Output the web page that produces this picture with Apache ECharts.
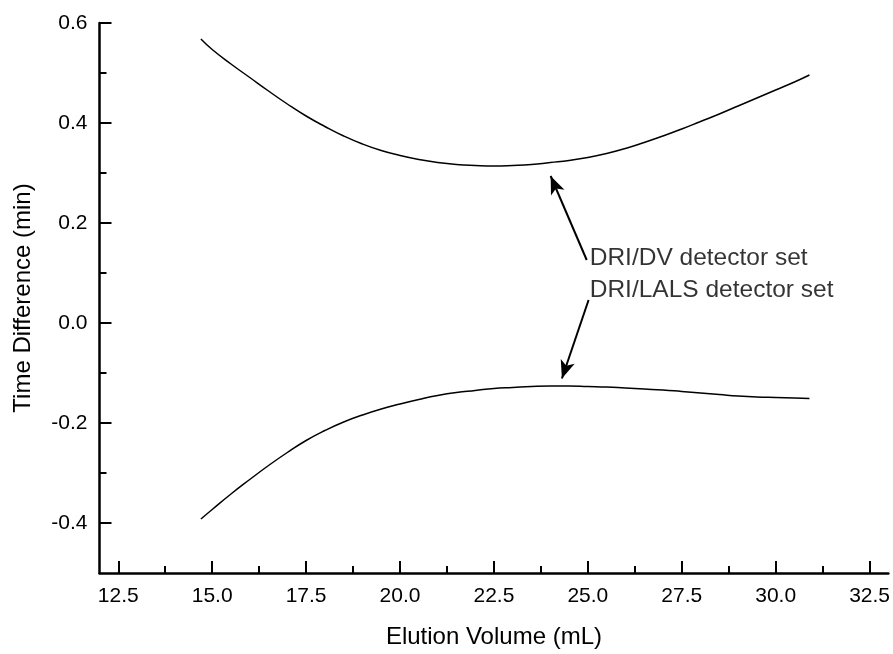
<!DOCTYPE html>
<html>
<head>
<meta charset="utf-8">
<script src="https://cdn.jsdelivr.net/npm/echarts@6/dist/echarts.min.js"></script>
<style>html,body{margin:0;padding:0;background:#fff}#c{width:893px;height:654px}</style>
</head>
<body>
<div id="c"></div>
<script>
// Elution volume (mL) sample points
const elutionVolume = [14.7,15.0,15.5,16.0,16.5,17.0,17.5,18.0,18.5,19.0,19.5,20.0,20.5,21.0,21.5,22.0,22.5,23.0,23.5,24.0,24.5,25.0,25.5,26.0,26.5,27.0,27.5,28.0,28.5,29.0,29.5,30.0,30.5,30.9];
// DRI/DV detector set time difference (min)
const driDv = [0.568,0.547,0.518,0.491,0.464,0.438,0.414,0.393,0.374,0.358,0.345,0.335,0.327,0.321,0.317,0.315,0.314,0.315,0.317,0.321,0.325,0.331,0.339,0.349,0.361,0.374,0.388,0.403,0.418,0.434,0.450,0.466,0.482,0.496];
// DRI/LALS detector set time difference (min)
const driLals = [-0.392,-0.373,-0.342,-0.313,-0.285,-0.259,-0.235,-0.215,-0.198,-0.184,-0.172,-0.162,-0.153,-0.145,-0.139,-0.135,-0.131,-0.129,-0.127,-0.126,-0.126,-0.127,-0.128,-0.130,-0.132,-0.134,-0.137,-0.140,-0.143,-0.146,-0.148,-0.149,-0.150,-0.151];
// tick labels
const xTicks = [12.5,15.0,17.5,20.0,22.5,25.0,27.5,30.0,32.5];
const xMinorTicks = [13.75,16.25,18.75,21.25,23.75,26.25,28.75,31.25];
const yTicks = [-0.4,-0.2,0.0,0.2,0.4,0.6];
const yMinorTicks = [-0.3,-0.1,0.1,0.3,0.5];
// annotations: label text and arrows (data coordinates)
const labelTexts = ['DRI/DV detector set','DRI/LALS detector set'];
const labelAnchors = [[25.05,0.130],[25.05,0.066]];
const arrowTails = [[24.97,0.126],[25.02,0.046]];
const arrowTips = [[24.01,0.294],[24.31,-0.111]];

const FONT = "'Liberation Sans', Arial, Helvetica, sans-serif";
const chart = echarts.init(document.getElementById('c'), null, {renderer:'canvas'});

function pairs(xs, ys){ return xs.map((x,i)=>[x, ys[i]]); }

const option = {
  backgroundColor:'#fff',
  animation:false,
  grid:{left:99.5, right:2.5, top:23, bottom:75, containLabel:false},
  xAxis:[
    {
      type:'value', min:12, max:33, position:'bottom',
      axisLine:{show:true, onZero:false, lineStyle:{color:'#000', width:2.5}},
      splitLine:{show:false},
      axisTick:{show:true, inside:true, length:12, lineStyle:{color:'#000', width:2}, customValues:xTicks},
      axisLabel:{show:true, customValues:xTicks, formatter:v=>v.toFixed(1), fontSize:21, fontFamily:FONT, color:'#000', margin:13},
      name:'Elution Volume (mL)', nameLocation:'middle', nameGap:52,
      nameTextStyle:{fontSize:24, fontFamily:FONT, color:'#000'}
    },
    {
      type:'value', min:12, max:33, position:'bottom',
      axisLine:{show:false, onZero:false}, splitLine:{show:false},
      axisTick:{show:true, inside:true, length:7, lineStyle:{color:'#000', width:2}, customValues:xMinorTicks},
      axisLabel:{show:false}
    }
  ],
  yAxis:[
    {
      type:'value', min:-0.5, max:0.6, position:'left',
      axisLine:{show:true, onZero:false, lineStyle:{color:'#000', width:2.5}},
      splitLine:{show:false},
      axisTick:{show:true, inside:true, length:12, lineStyle:{color:'#000', width:2}, customValues:yTicks},
      axisLabel:{show:true, customValues:yTicks, formatter:v=>v.toFixed(1), fontSize:21, fontFamily:FONT, color:'#000', margin:12},
      name:'Time Difference (min)', nameLocation:'middle', nameGap:64, nameRotate:90,
      nameTextStyle:{fontSize:24, fontFamily:FONT, color:'#000'}
    },
    {
      type:'value', min:-0.5, max:0.6, position:'left',
      axisLine:{show:false, onZero:false}, splitLine:{show:false},
      axisTick:{show:true, inside:true, length:7, lineStyle:{color:'#000', width:2}, customValues:yMinorTicks},
      axisLabel:{show:false}
    }
  ],
  series:[
    {
      name:'DRI/DV detector set', type:'line', xAxisIndex:0, yAxisIndex:0,
      data:pairs(elutionVolume, driDv), showSymbol:false, smooth:0.5,
      lineStyle:{color:'#000', width:1.5}, silent:true
    },
    {
      name:'DRI/LALS detector set', type:'line', xAxisIndex:0, yAxisIndex:0,
      data:pairs(elutionVolume, driLals), showSymbol:false, smooth:0.5,
      lineStyle:{color:'#000', width:1.5}, silent:true,
      markLine:{
        silent:true, animation:false,
        lineStyle:{color:'#000', width:2, type:'solid'},
        label:{show:false},
        data: arrowTails.map((t,i)=>[
          {coord:t, symbol:'none'},
          {coord:arrowTips[i], symbol:'arrow', symbolSize:[11,18]}
        ])
      }
    },
    {
      type:'scatter', xAxisIndex:0, yAxisIndex:0, symbolSize:0, silent:true,
      data: labelAnchors.map((p,i)=>[p[0], p[1], labelTexts[i]]),
      label:{show:true, position:'right', distance:0, formatter:p=>p.value[2],
        fontSize:24.5, fontFamily:FONT, color:'#000', textBorderWidth:0}
    }
  ]
};
chart.setOption(option);
</script>
</body>
</html>
